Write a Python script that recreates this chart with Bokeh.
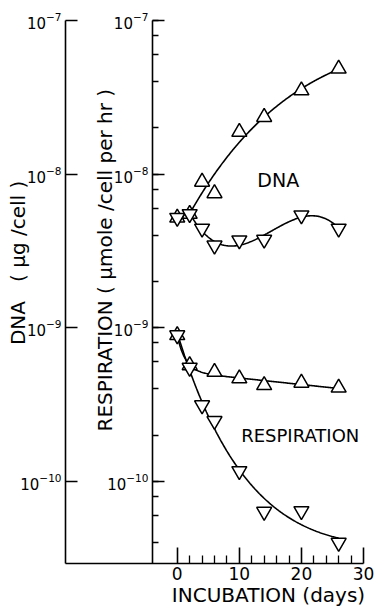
import numpy as np
from bokeh.plotting import figure
from bokeh.models import Range1d, LogAxis, FixedTicker, Label
from bokeh.embed import file_html
from bokeh.resources import INLINE

# Incubation time (days) and measured values per cell
days = [0, 2, 4, 6, 10, 14, 20, 26]
dna_up = [5.2e-9, 5.5e-9, 8.9e-9, 7.5e-9, 1.88e-8, 2.35e-8, 3.5e-8, 4.85e-8]
dna_down = [5.2e-9, 5.5e-9, 4.43e-9, 3.44e-9, 3.71e-9, 3.75e-9, 5.4e-9, 4.43e-9]
resp_up_days = [0, 2, 6, 10, 14, 20, 26]
resp_up = [8.95e-10, 5.7e-10, 5.16e-10, 4.68e-10, 4.23e-10, 4.38e-10, 4.07e-10]
resp_down = [8.95e-10, 5.5e-10, 3.14e-10, 2.48e-10, 1.17e-10, 6.36e-11, 6.42e-11, 4.0e-11]

x_ticks = [0, 10, 20, 30]
x_minor_ticks = [2, 4, 6, 8, 12, 14, 16, 18, 22, 24, 26, 28]

FONT = "DejaVu Sans"
NB = "\u00a0"

Y_LO, Y_HI = 10 ** -10.534, 1e-7          # extent of the drawn axes
VIEW_TOP = 10 ** -6.87                    # a little headroom for the top labels


def trend(t, v, t0=0.0):
    """Least-squares trend in log space: c + b*t + a*exp(-k*(t - t0))."""
    t = np.asarray(t, float)
    lv = np.log10(np.asarray(v, float))
    best = None
    for k in np.linspace(0.05, 2.0, 400):
        basis = np.column_stack([np.ones_like(t), t, np.exp(-k * (t - t0))])
        coef, *_ = np.linalg.lstsq(basis, lv, rcond=None)
        err = float(np.sum((basis @ coef - lv) ** 2))
        if best is None or err < best[0]:
            best = (err, k, coef)
    _, k, coef = best
    return lambda tt: 10 ** (coef[0] + coef[1] * tt + coef[2] * np.exp(-k * (tt - t0)))


p = figure(width=381, height=609, output_backend="svg", toolbar_location=None,
           x_range=Range1d(-18, 30), y_range=Range1d(Y_LO, VIEW_TOP),
           y_axis_type="log", min_border_left=65, min_border_right=18,
           min_border_top=0, min_border_bottom=46)
p.outline_line_color = None
p.grid.visible = False
p.background_fill_color = "white"
p.border_fill_color = "white"

# Fitted curves
d = np.array(days, float)
t_dna = np.linspace(2, 26, 200)
p.line(days[:2], dna_up[:2], line_color="black", line_width=1.6)
p.line(t_dna, trend(days[1:], dna_up[1:], t0=2)(t_dna), line_color="black", line_width=1.6)
cub = np.polyfit(d[1:], np.log10(dna_down[1:]), 3)
p.line(t_dna, 10 ** np.polyval(cub, t_dna), line_color="black", line_width=1.6)

t_resp = np.linspace(0, 26, 200)
p.line(t_resp, trend(resp_up_days, resp_up)(t_resp), line_color="black", line_width=1.6)
p.line(t_resp, trend(days, resp_down)(t_resp), line_color="black", line_width=1.6)

# Markers
mk = dict(size=15, fill_color="white", line_color="black", line_width=1.5)
p.scatter(days, dna_up, marker="triangle", **mk)
p.scatter(days, dna_down, marker="inverted_triangle", **mk)
p.scatter(resp_up_days, resp_up, marker="triangle", **mk)
p.scatter(days, resp_down, marker="inverted_triangle", **mk)

# Axes
dna_axis = p.yaxis[0]
resp_axis = LogAxis(fixed_location=-4)
p.add_layout(resp_axis, "left")

dna_axis.axis_label = NB * 6 + "DNA" + NB * 3 + "( μg /cell )"
resp_axis.axis_label = NB * 10 + "RESPIRATION ( μmole /cell per hr )"

for ax in (dna_axis, resp_axis):
    ax.bounds = (Y_LO, Y_HI)
    ax.axis_line_color = "black"
    ax.axis_line_width = 1.6
    ax.major_tick_line_color = "black"
    ax.major_tick_line_width = 1.6
    ax.major_tick_in = 12
    ax.major_tick_out = 0
    ax.minor_tick_line_color = "black"
    ax.minor_tick_line_width = 1.3
    ax.minor_tick_in = 6
    ax.minor_tick_out = 0
    ax.major_label_text_font = FONT
    ax.major_label_text_font_size = "15px"
    ax.major_label_text_color = "black"
    ax.major_label_standoff = 4
    ax.axis_label_text_font = FONT
    ax.axis_label_text_font_size = "20px"
    ax.axis_label_text_font_style = "normal"
    ax.axis_label_text_color = "black"
dna_axis.minor_tick_line_color = None
dna_axis.axis_label_standoff = -13
resp_axis.axis_label_standoff = -13

xa = p.xaxis[0]
xa.ticker = FixedTicker(ticks=x_ticks, minor_ticks=x_minor_ticks)
xa.axis_line_color = "black"
xa.axis_line_width = 1.6
xa.major_tick_line_color = "black"
xa.major_tick_line_width = 1.6
xa.major_tick_in = 16
xa.major_tick_out = 0
xa.minor_tick_line_color = "black"
xa.minor_tick_line_width = 1.3
xa.minor_tick_in = 8
xa.minor_tick_out = 0
xa.major_label_text_font = FONT
xa.major_label_text_font_size = "17px"
xa.major_label_text_color = "black"
xa.major_label_standoff = 3
xa.axis_label = NB * 17 + "INCUBATION (days)"
xa.axis_label_text_font = FONT
xa.axis_label_text_font_size = "20px"
xa.axis_label_text_font_style = "normal"
xa.axis_label_text_color = "black"
xa.axis_label_standoff = 0

# Series names
p.add_layout(Label(x=12.9, y=9.2e-9, text="DNA", text_baseline="middle",
                   text_font=FONT, text_font_size="19px", text_color="black"))
p.add_layout(Label(x=10.3, y=2.0e-10, text="RESPIRATION", text_baseline="middle",
                   text_font=FONT, text_font_size="18px", text_color="black"))

open("out.html", "w").write(file_html(p, INLINE))
